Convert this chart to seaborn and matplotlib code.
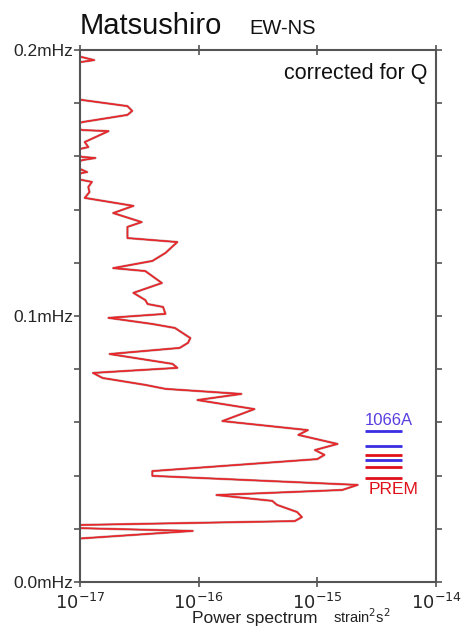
import numpy as np
import matplotlib
matplotlib.use("Agg")
import matplotlib.pyplot as plt
import matplotlib.patheffects as pe
from matplotlib.ticker import FixedLocator, FixedFormatter
import seaborn as sns

# power spectrum (strain^2 s^2, as log10) against frequency (mHz)
freq_mhz = [0.1981, 0.1974, 0.1962, 0.1955, 0.1944, 0.1820, 0.1812, 0.1789, 0.1771, 0.1756,
            0.1729, 0.1714, 0.1699, 0.1695, 0.1654, 0.1635, 0.1628, 0.1613, 0.1598, 0.1594,
            0.1586, 0.1568, 0.1549, 0.1541, 0.1538, 0.1523, 0.1511, 0.1504, 0.1485, 0.1466,
            0.1444, 0.1414, 0.1387, 0.1353, 0.1335, 0.1293, 0.1278, 0.1237, 0.1207, 0.1180,
            0.1169, 0.1124, 0.1087, 0.1060, 0.1045, 0.1034, 0.1008, 0.0993, 0.0970, 0.0955,
            0.0917, 0.0899, 0.0880, 0.0857, 0.0820, 0.0805, 0.0786, 0.0767, 0.0741, 0.0726,
            0.0707, 0.0684, 0.0650, 0.0605, 0.0571, 0.0553, 0.0519, 0.0496, 0.0478, 0.0462,
            0.0417, 0.0399, 0.0365, 0.0346, 0.0327, 0.0305, 0.0290, 0.0263, 0.0244, 0.0229,
            0.0214, 0.0203, 0.0192, 0.0162, 0.0154]
log_power = [-17.08, -16.99, -16.88, -16.99, -17.08, -17.08, -16.98, -16.60, -16.56, -16.60,
             -16.98, -17.08, -16.98, -16.76, -16.96, -16.93, -17.00, -17.08, -16.98, -16.87,
             -16.98, -17.08, -16.98, -16.94, -16.98, -17.08, -16.98, -16.90, -16.93, -16.92,
             -16.96, -16.55, -16.72, -16.48, -16.60, -16.60, -16.18, -16.28, -16.39, -16.72,
             -16.45, -16.31, -16.55, -16.45, -16.43, -16.30, -16.28, -16.76, -16.39, -16.20,
             -16.07, -16.09, -16.16, -16.75, -16.22, -16.18, -16.89, -16.81, -16.45, -16.28,
             -15.64, -16.01, -15.53, -15.80, -15.08, -15.16, -14.83, -15.02, -14.94, -15.00,
             -16.39, -16.39, -14.66, -14.79, -15.85, -15.38, -15.34, -15.17, -15.13, -15.19,
             -17.05, -17.05, -16.05, -17.05, -17.10]

# predicted mode frequencies (mHz)
model_1066a = [0.0568, 0.0511, 0.0459]
model_prem = [0.0477, 0.0432, 0.0391]
mark_x0, mark_x1 = 2.5e-15, 5.2e-15

power = [10 ** v for v in log_power]

sns.set_theme(style="white")
plt.rcParams["font.family"] = ["Liberation Sans", "DejaVu Sans"]

fig = plt.figure(figsize=(4.63, 6.37), dpi=100)
ax = fig.add_axes([80 / 463, 1 - 582 / 637, 356 / 463, 532 / 637])

sns.lineplot(x=power, y=freq_mhz, sort=False, estimator=None, ax=ax,
             color="#e8262a", linewidth=0.9,
             path_effects=[pe.withStroke(linewidth=1.8, foreground="#c9a0a0"), pe.Normal()])

ax.hlines(model_1066a, mark_x0, mark_x1, colors="#3a2ee0", linewidth=2)
ax.hlines(model_prem, mark_x0, mark_x1, colors="#e0101a", linewidth=2)
ax.text(4.0e-15, 0.0609, "1066A", color="#5a3ee0", fontsize=12, ha="center", va="center")
ax.text(4.4e-15, 0.0347, "PREM", color="#e0101a", fontsize=12.5, ha="center", va="center")
ax.text(0.975, 0.945, "corrected for Q", transform=ax.transAxes, fontsize=15.5,
        ha="right", va="baseline", color="#111111")

ax.set_xscale("log")
ax.set_xlim(1e-17, 1e-14)
ax.set_ylim(0, 0.2)
ax.xaxis.set_major_locator(FixedLocator([1e-17, 1e-16, 1e-15, 1e-14]))
ax.xaxis.set_minor_locator(FixedLocator([]))
ax.set_xticklabels([r"$10^{-17}$", r"$10^{-16}$", r"$10^{-15}$", r"$10^{-14}$"], fontsize=13)
ax.yaxis.set_major_locator(FixedLocator(np.linspace(0, 0.2, 11)))
ylabels = ["0.0mHz"] + [""] * 4 + ["0.1mHz"] + [""] * 4 + ["0.2mHz"]
ax.yaxis.set_major_formatter(FixedFormatter(ylabels))
ax.tick_params(axis="y", labelsize=12.5, left=True, right=True, direction="out",
               length=4, width=1.2, color="#555555", pad=1)
ax.tick_params(axis="x", top=True, bottom=True, direction="inout",
               length=7, width=1.2, color="#555555", pad=4)
for side, sp in ax.spines.items():
    sp.set_color("#555555")
    sp.set_linewidth(1.5)
ax.set_xlabel("")
ax.set_ylabel("")

fig.text(80 / 463, 1 - 34 / 637, "Matsushiro", fontsize=21, va="baseline", color="#111111")
fig.text(249 / 463, 1 - 34 / 637, "EW-NS", fontsize=14.5, va="baseline", color="#111111")
fig.text(192 / 463, 1 - 623 / 637, "Power spectrum", fontsize=12.5, va="baseline", color="#222222")
fig.text(333 / 463, 1 - 623 / 637, r"strain$^2$s$^2$", fontsize=10.5, va="baseline", color="#222222")

fig.savefig("out.png", dpi=100)
